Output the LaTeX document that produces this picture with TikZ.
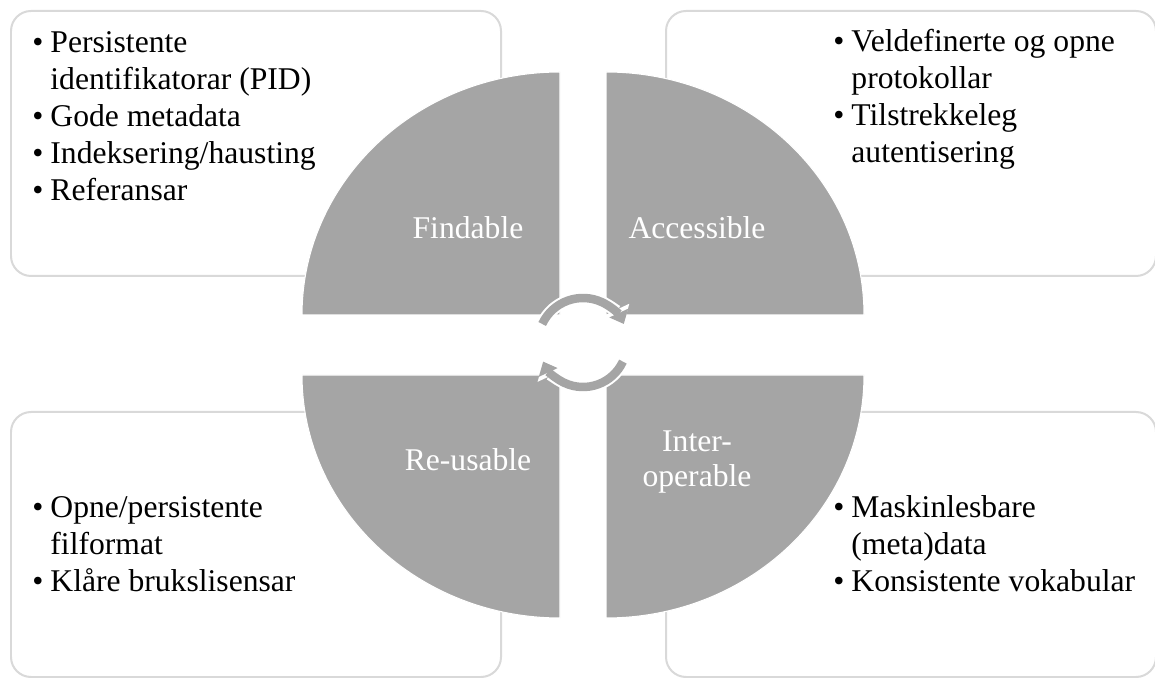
\documentclass[tikz,border=0pt]{standalone}
\usepackage{fontspec}
\setmainfont{Liberation Serif}
\usetikzlibrary{arrows.meta}

\definecolor{quadgray}{HTML}{A5A5A5}
\definecolor{boxgray}{HTML}{D9D9D9}

\begin{document}
\begin{tikzpicture}[
                    infobox/.style={draw=boxgray, fill=white, line width=0.04cm, rounded corners=0.4cm, anchor=north west, minimum width=9.8cm, minimum height=5.3cm, inner sep=0pt},
                    quarter/.style={fill=quadgray, draw=white, line width=0.6pt},
                    qlabel/.style={text=white, font=\fontsize{18}{20}\selectfont, align=center, inner sep=0pt},
                    bullets/.style={anchor=base west, inner sep=0pt, font=\fontsize{18}{21}\selectfont},
                    cyclearrow/.style={draw=quadgray, line width=0.17cm, -{Triangle[length=0.24cm, width=0.4cm]}},
                    cycleedge/.style={draw=white, line width=0.25cm, -{Triangle[length=0.32cm, width=0.52cm]}},
                ]
                    \useasboundingbox (0,0) rectangle (23.1,13.54);

                    %Boxes
                    \node[infobox](findbox) at (0.2,13.34) {};
                    \node[infobox](accbox) at (13.3,13.34) {};
                    \node[infobox](reubox) at (0.2,5.32) {};
                    \node[infobox](intbox) at (13.3,5.32) {};

                    %Quarters
                    \draw[quarter] (11.2,7.24) -- (6.04,7.24) arc[start angle=180, end angle=90, x radius=5.16, y radius=4.86] -- cycle;
                    \draw[quarter] (12.12,7.24) -- (12.12,12.10) arc[start angle=90, end angle=0, x radius=5.16, y radius=4.86] -- cycle;
                    \draw[quarter] (11.2,6.04) -- (6.04,6.04) arc[start angle=180, end angle=270, x radius=5.16, y radius=4.86] -- cycle;
                    \draw[quarter] (12.12,6.04) -- (17.28,6.04) arc[start angle=0, end angle=-90, x radius=5.16, y radius=4.86] -- cycle;

                    %Labels
                    \node[qlabel](find) at (9.36,8.98) {Findable};
                    \node[qlabel](acc) at (13.94,8.98) {Accessible};
                    \node[qlabel](reu) at (9.36,4.34) {Re-usable};
                    \node[qlabel](int) at (13.94,4.30) {Inter-\\operable};

                    %Texts
                    \node[bullets](findtxt) at (0.64,12.48) {\begin{tabular}[t]{@{}l@{\hspace{0.14cm}}l@{}}
                        \textbullet & Persistente\\
                                    & identifikatorar (PID)\\
                        \textbullet & Gode metadata\\
                        \textbullet & Indeksering/hausting\\
                        \textbullet & Referansar
                    \end{tabular}};
                    \node[bullets](acctxt) at (16.66,12.5) {\begin{tabular}[t]{@{}l@{\hspace{0.14cm}}l@{}}
                        \textbullet & Veldefinerte og opne\\
                                    & protokollar\\
                        \textbullet & Tilstrekkeleg\\
                                    & autentisering
                    \end{tabular}};
                    \node[bullets](reutxt) at (0.64,3.18) {\begin{tabular}[t]{@{}l@{\hspace{0.14cm}}l@{}}
                        \textbullet & Opne/persistente\\
                                    & filformat\\
                        \textbullet & Klåre brukslisensar
                    \end{tabular}};
                    \node[bullets](inttxt) at (16.66,3.18) {\begin{tabular}[t]{@{}l@{\hspace{0.14cm}}l@{}}
                        \textbullet & Maskinlesbare\\
                                    & (meta)data\\
                        \textbullet & Konsistente vokabular
                    \end{tabular}};

                    %Arrows
                    \coordinate (hub) at (11.66,6.68);
                    \draw[cycleedge] ([shift={(155:0.9)}]hub) arc[start angle=155, end angle=25, radius=0.9];
                    \draw[cycleedge] ([shift={(-25:0.88)}]hub) arc[start angle=-25, end angle=-155, radius=0.88];
                    \draw[cyclearrow] ([shift={(155:0.9)}]hub) arc[start angle=155, end angle=25, radius=0.9];
                    \draw[cyclearrow] ([shift={(-25:0.88)}]hub) arc[start angle=-25, end angle=-155, radius=0.88];
                \end{tikzpicture}
\end{document}
